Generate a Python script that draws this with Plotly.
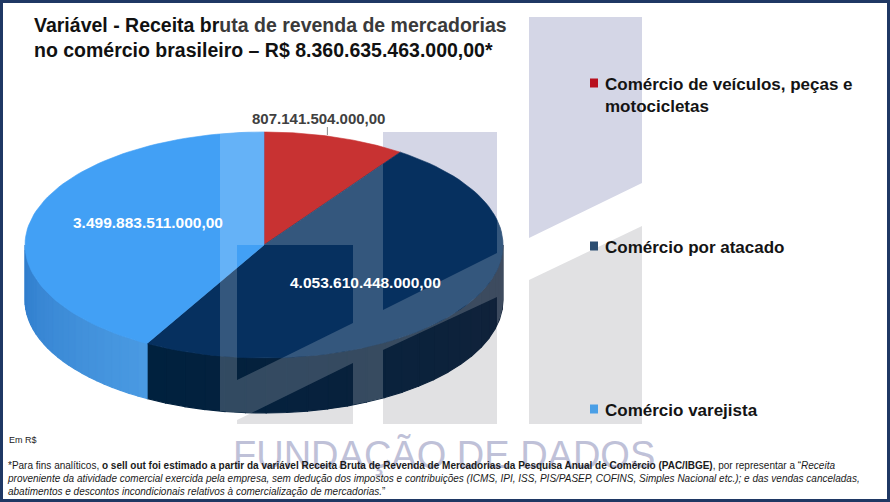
import numpy as np
import plotly.graph_objects as go

# dados (R$)
categorias = ['Comércio de veículos, peças e motocicletas', 'Comércio por atacado', 'Comércio varejista']
legenda = ['Comércio de veículos, peças e<br>motocicletas', 'Comércio por atacado', 'Comércio varejista']
valores = [807141504000, 4053610448000, 3499883511000]
rotulos = ['807.141.504.000,00', '4.053.610.448.000,00', '3.499.883.511.000,00']

cores_topo = ['#c83232', '#06305f', '#42a0f5']
cores_lado_ini = ['#9a2020', '#00213f', '#4a9ae2']
cores_lado_fim = ['#8a1818', '#13233a', '#2f7ccc']
cores_legenda = ['#b8101e', '#2c4e72', '#4a9fe6']

W, H = 890, 502
cx, cy, rx, ry, prof = 264, 245, 239, 113, 55


def ponto(theta, dy=0.0, k=1.0):
    t = np.radians(theta)
    return cx + k * rx * np.sin(t), cy - k * ry * np.cos(t) + dy


def arco(a, b, dy=0.0, n=80):
    ts = np.linspace(a, b, n)
    return [ponto(t, dy) for t in ts]


def clip(subject, clipper):
    # Sutherland-Hodgman, clipper convexo
    area = sum(clipper[i - 1][0] * clipper[i][1] - clipper[i][0] * clipper[i - 1][1] for i in range(len(clipper)))
    sgn = 1 if area > 0 else -1

    def dentro(p, a, b):
        return sgn * ((b[0] - a[0]) * (p[1] - a[1]) - (b[1] - a[1]) * (p[0] - a[0])) >= 0

    def inter(s, e, a, b):
        x1, y1 = s; x2, y2 = e; x3, y3 = a; x4, y4 = b
        d = (x1 - x2) * (y3 - y4) - (y1 - y2) * (x3 - x4)
        if abs(d) < 1e-12:
            return e
        t = ((x1 - x3) * (y3 - y4) - (y1 - y3) * (x3 - x4)) / d
        return (x1 + t * (x2 - x1), y1 + t * (y2 - y1))

    out = list(subject)
    for i in range(len(clipper)):
        a, b = clipper[i - 1], clipper[i]
        inp, out = out, []
        if not inp:
            break
        s = inp[-1]
        for e in inp:
            if dentro(e, a, b):
                if not dentro(s, a, b):
                    out.append(inter(s, e, a, b))
                out.append(e)
            elif dentro(s, a, b):
                out.append(inter(s, e, a, b))
            s = e
    return out


def poly(pts, cor, linha=None, lw=0.6):
    xs = [p[0] for p in pts] + [pts[0][0]]
    ys = [p[1] for p in pts] + [pts[0][1]]
    return go.Scatter(x=xs, y=ys, fill='toself', fillcolor=cor, mode='lines',
                      line=dict(width=lw if linha else 0, color=linha or cor),
                      hoverinfo='skip', showlegend=False)


fig = go.Figure()

# marca d'agua (fundo)
lavanda = '#d4d6e6'
cinza = '#e1e1e3'
marca_fundo = [
    ([(529, 17), (642, 17), (642, 183), (529, 238)], lavanda),
    ([(529, 280), (642, 226), (642, 424), (529, 424)], cinza),
    ([(383, 132), (497, 132), (497, 253), (383, 310)], lavanda),
    ([(383, 350), (497, 297), (497, 424), (383, 424)], cinza),
    ([(237, 420), (353, 363), (353, 424), (237, 424)], cinza),
]
for pts, cor in marca_fundo:
    fig.add_trace(poly(pts, cor))

# pizza 3D
total = sum(valores)
fracs = [v / total for v in valores]
ang = np.concatenate([[0], np.cumsum(fracs) * 360])

zonas_claras = [
    [(220, 0), (237, 0), (237, 502), (220, 502)],
    [(237, 0), (353, 0), (353, 245), (237, 245)],
    [(237, 380), (353, 323), (353, 363), (237, 420)],
    [(353, 0), (383, 0), (383, 502), (353, 502)],
    [(383, 310), (497, 253), (497, 297), (383, 350)],
    [(497, 0), (620, 0), (620, 502), (497, 502)],
]

lados = []
topos = []
for i in range(len(valores)):
    a, b = ang[i], ang[i + 1]
    topo = [(cx, cy)] + arco(a, b)
    topos.append(topo)
    la, lb = max(a, 90), min(b, 270)
    if lb > la:
        n = 24
        cs = np.linspace(0, 1, n + 1)
        ts = np.linspace(la, lb, n + 1)
        c0 = np.array([int(cores_lado_ini[i][j:j + 2], 16) for j in (1, 3, 5)])
        c1 = np.array([int(cores_lado_fim[i][j:j + 2], 16) for j in (1, 3, 5)])
        for j in range(n):
            f = 1 - cs[j] if i == 1 else cs[j]
            c = (c0 * (1 - f) + c1 * f).astype(int)
            seg = arco(ts[j], ts[j + 1], n=6) + arco(ts[j + 1], ts[j], dy=prof, n=6)
            cor = 'rgb(%d,%d,%d)' % tuple(c)
            fig.add_trace(poly(seg, cor, linha=cor, lw=1.2))
        lados.append((i, arco(la, lb) + arco(lb, la, dy=prof)))

for i, topo in enumerate(topos):
    fig.add_trace(poly(topo, cores_topo[i], linha=cores_topo[i]))

# clareamento da marca d'agua sobre atacado e varejista
for i, pts in [(1, topos[1]), (2, topos[2])] + [(k, p) for k, p in lados if k != 0]:
    for z in zonas_claras:
        r = clip(pts, z)
        if len(r) >= 3:
            fig.add_trace(poly(r, 'rgba(255,255,255,0.19)'))

# rotulos
meio = [(ang[i] + ang[i + 1]) / 2 for i in range(len(valores))]
x0, y0 = ponto(meio[0] - 2)
fig.add_shape(type='line', x0=x0, x1=x0, y0=y0 - 9, y1=y0 - 1, line=dict(color='#8c8c8c', width=1))
fig.add_annotation(x=x0 - 9, y=y0 - 18, text='<b>%s</b>' % rotulos[0], showarrow=False,
                   font=dict(size=15, color='#404040'))
for i in (1, 2):
    x, y = ponto(meio[i], k=0.5)
    dy = 8 if i == 1 else -8
    fig.add_annotation(x=x, y=y + dy, text='<b>%s</b>' % rotulos[i], showarrow=False,
                       font=dict(size=15.5, color='white'))

# legenda
leg_y = [83, 246, 409]
for i in range(len(valores)):
    fig.add_shape(type='rect', x0=590, x1=598, y0=leg_y[i] - 4.5, y1=leg_y[i] + 4.5,
                  fillcolor=cores_legenda[i], line=dict(width=0))
    fig.add_annotation(x=603, y=leg_y[i] - 10, text='<b>%s</b>' % legenda[i], showarrow=False,
                       xanchor='left', yanchor='top', align='left',
                       font=dict(size=17, color='#141414'))

# marca d'agua texto
fig.add_annotation(x=444, y=455, text='FUNDAÇÃO DE DADOS', showarrow=False,
                   font=dict(size=38, color='#bfc1d8', family='Liberation Sans, Arial'))

# titulo
fig.add_annotation(x=270, y=37, text='<b>Variável - Receita br<span style="color:#3a3a3a">uta de revenda de mercadorias</span><br>'
                   'no comércio brasileiro – R$ 8.360.635.463.000,00*</b>',
                   showarrow=False, align='left', font=dict(size=19.5, color='#111111'))

# notas
fig.add_annotation(x=7, y=440, text='Em R$', showarrow=False, xanchor='left', font=dict(size=9, color='#222222'))
nota = ('*Para fins analíticos, <b>o sell out foi estimado a partir da variável Receita Bruta de Revenda de Mercadorias '
        'da Pesquisa Anual de Comércio (PAC/IBGE)</b>, por representar a “<i>Receita</i><br>'
        '<i>proveniente da atividade comercial exercida pela empresa, sem dedução dos impostos e contribuições '
        '(ICMS, IPI, ISS, PIS/PASEP, COFINS, Simples Nacional etc.); e das vendas canceladas,</i><br>'
        '<i>abatimentos e descontos incondicionais relativos à comercialização de mercadorias.</i>”')
fig.add_annotation(x=5, y=478, text=nota, showarrow=False, xanchor='left', align='left',
                   font=dict(size=10, color='#1a1a1a', family='Arial, Liberation Sans'))

# moldura
fig.add_shape(type='rect', xref='paper', yref='paper', x0=0, x1=1, y0=0, y1=1,
              line=dict(color='#1f3864', width=6))

fig.update_xaxes(range=[0, W], visible=False, fixedrange=True)
fig.update_yaxes(range=[H, 0], visible=False, fixedrange=True)
fig.update_layout(width=W, height=H, autosize=False, margin=dict(l=0, r=0, t=0, b=0),
                  plot_bgcolor='white', paper_bgcolor='white',
                  font=dict(family='Arial, Liberation Sans, sans-serif'), showlegend=False)

fig.write_html('out.html', config={'displayModeBar': False},
               post_script="document.body.style.margin='0';document.body.style.overflow='hidden';")
